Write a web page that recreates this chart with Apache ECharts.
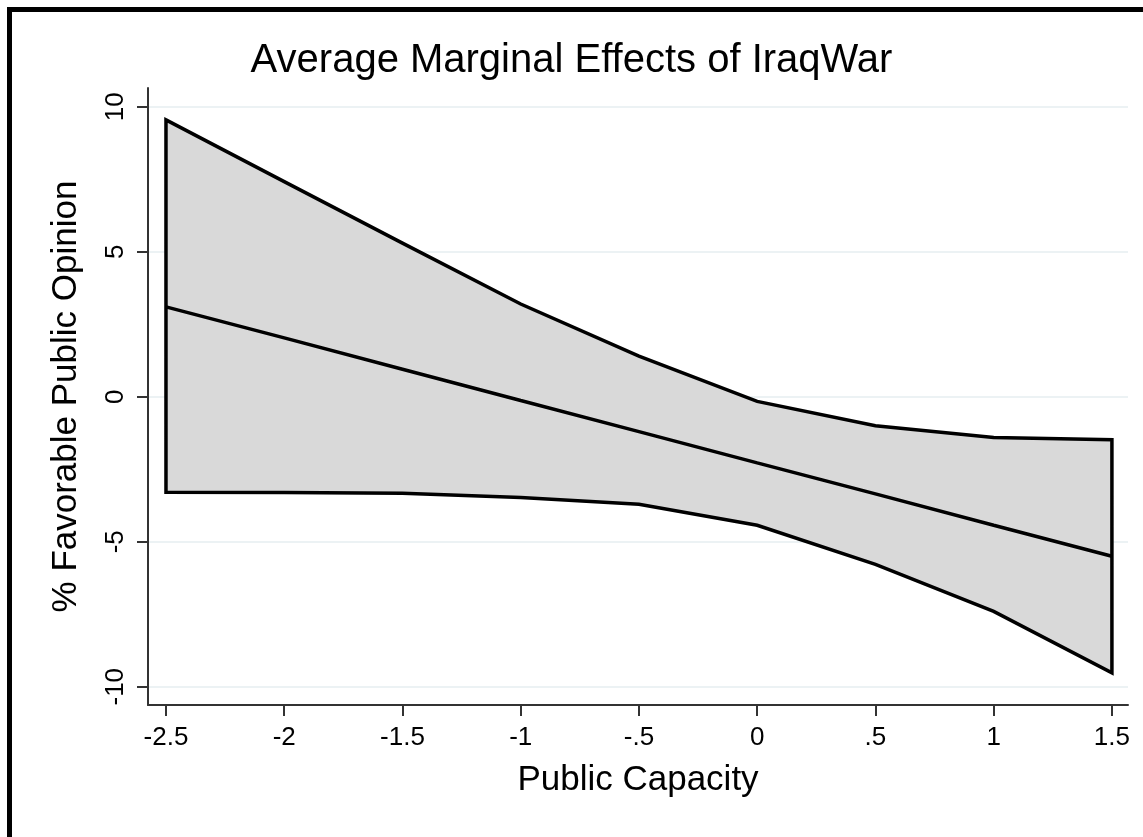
<!DOCTYPE html>
<html>
<head>
<meta charset="utf-8">
<script src="https://cdn.jsdelivr.net/npm/echarts@6/dist/echarts.min.js"></script>
<style>
html,body{margin:0;padding:0;background:#fff;}
#chart{width:1143px;height:837px;}
</style>
</head>
<body>
<div id="chart"></div>
<script>
const xVals = [-2.5, -2, -1.5, -1, -0.5, 0, 0.5, 1, 1.5];
const upper = [9.55, 7.42, 5.3, 3.2, 1.4, -0.16, -1.0, -1.4, -1.48];
const lower = [-3.29, -3.3, -3.33, -3.47, -3.71, -4.43, -5.78, -7.4, -9.52];
const estimate = [3.1, 2.03, 0.95, -0.13, -1.2, -2.28, -3.35, -4.43, -5.5];
const xTickValues = [-2.5, -2, -1.5, -1, -0.5, 0, 0.5, 1, 1.5];
const xTickLabels = ['-2.5', '-2', '-1.5', '-1', '-.5', '0', '.5', '1', '1.5'];
const yTickValues = [-10, -5, 0, 5, 10];
const yTickLabels = ['-10', '-5', '0', '5', '10'];

const FONT = '"Liberation Sans", Arial, sans-serif';
const chart = echarts.init(document.getElementById('chart'), null, {renderer: 'canvas'});

function labelFor(vals, labels) {
  return function (v) {
    for (let i = 0; i < vals.length; i++) {
      if (Math.abs(vals[i] - v) < 1e-9) return labels[i];
    }
    return '';
  };
}

const option = {
  backgroundColor: '#ffffff',
  animation: false,
  title: {
    text: 'Average Marginal Effects of IraqWar',
    left: 'center',
    top: 36,
    textStyle: {fontFamily: FONT, fontSize: 40, fontWeight: 'normal', color: '#000'}
  },
  grid: {left: 148, right: 15, top: 88, bottom: 132, containLabel: false},
  xAxis: {
    type: 'value',
    min: -2.576,
    max: 1.568,
    name: 'Public Capacity',
    nameLocation: 'middle',
    nameGap: 58,
    nameTextStyle: {fontFamily: FONT, fontSize: 35, color: '#000'},
    axisLine: {show: true, onZero: false, lineStyle: {color: '#333', width: 2}},
    axisTick: {show: true, customValues: xTickValues, length: 11, lineStyle: {color: '#333', width: 2}},
    axisLabel: {customValues: xTickValues, formatter: labelFor(xTickValues, xTickLabels), fontFamily: FONT, fontSize: 26, color: '#000', margin: 20},
    splitLine: {show: false}
  },
  yAxis: {
    type: 'value',
    min: -10.63,
    max: 10.65,
    name: '% Favorable Public Opinion',
    nameLocation: 'middle',
    nameRotate: 90,
    nameGap: 64,
    nameTextStyle: {fontFamily: FONT, fontSize: 35, color: '#000'},
    axisLine: {show: true, onZero: false, lineStyle: {color: '#333', width: 2}},
    axisTick: {show: true, customValues: yTickValues, length: 11, lineStyle: {color: '#333', width: 2}},
    axisLabel: {customValues: yTickValues, formatter: labelFor(yTickValues, yTickLabels), rotate: 90, fontFamily: FONT, fontSize: 26, color: '#000', margin: 19},
    splitLine: {show: true, lineStyle: {color: '#e6eef0', width: 1.5}}
  },
  series: [
    {
      type: 'custom',
      name: 'CI',
      z: 3,
      data: [[xVals[0], upper[0]]],
      renderItem: function (params, api) {
        const pts = [];
        for (let i = 0; i < xVals.length; i++) pts.push(api.coord([xVals[i], upper[i]]));
        for (let i = xVals.length - 1; i >= 0; i--) pts.push(api.coord([xVals[i], lower[i]]));
        return {
          type: 'polygon',
          shape: {points: pts},
          style: {fill: '#d9d9d9', stroke: '#000', lineWidth: 3.5, lineJoin: 'miter'}
        };
      }
    },
    {
      type: 'line',
      name: 'Estimate',
      z: 4,
      data: xVals.map((x, i) => [x, estimate[i]]),
      showSymbol: false,
      symbol: 'none',
      lineStyle: {color: '#000', width: 3.5}
    }
  ],
  graphic: [
    {
      type: 'rect',
      shape: {x: 9.5, y: 9.5, width: 1300, height: 1000},
      style: {fill: null, stroke: '#000', lineWidth: 5},
      z: 100
    }
  ]
};
chart.setOption(option);
</script>
</body>
</html>
